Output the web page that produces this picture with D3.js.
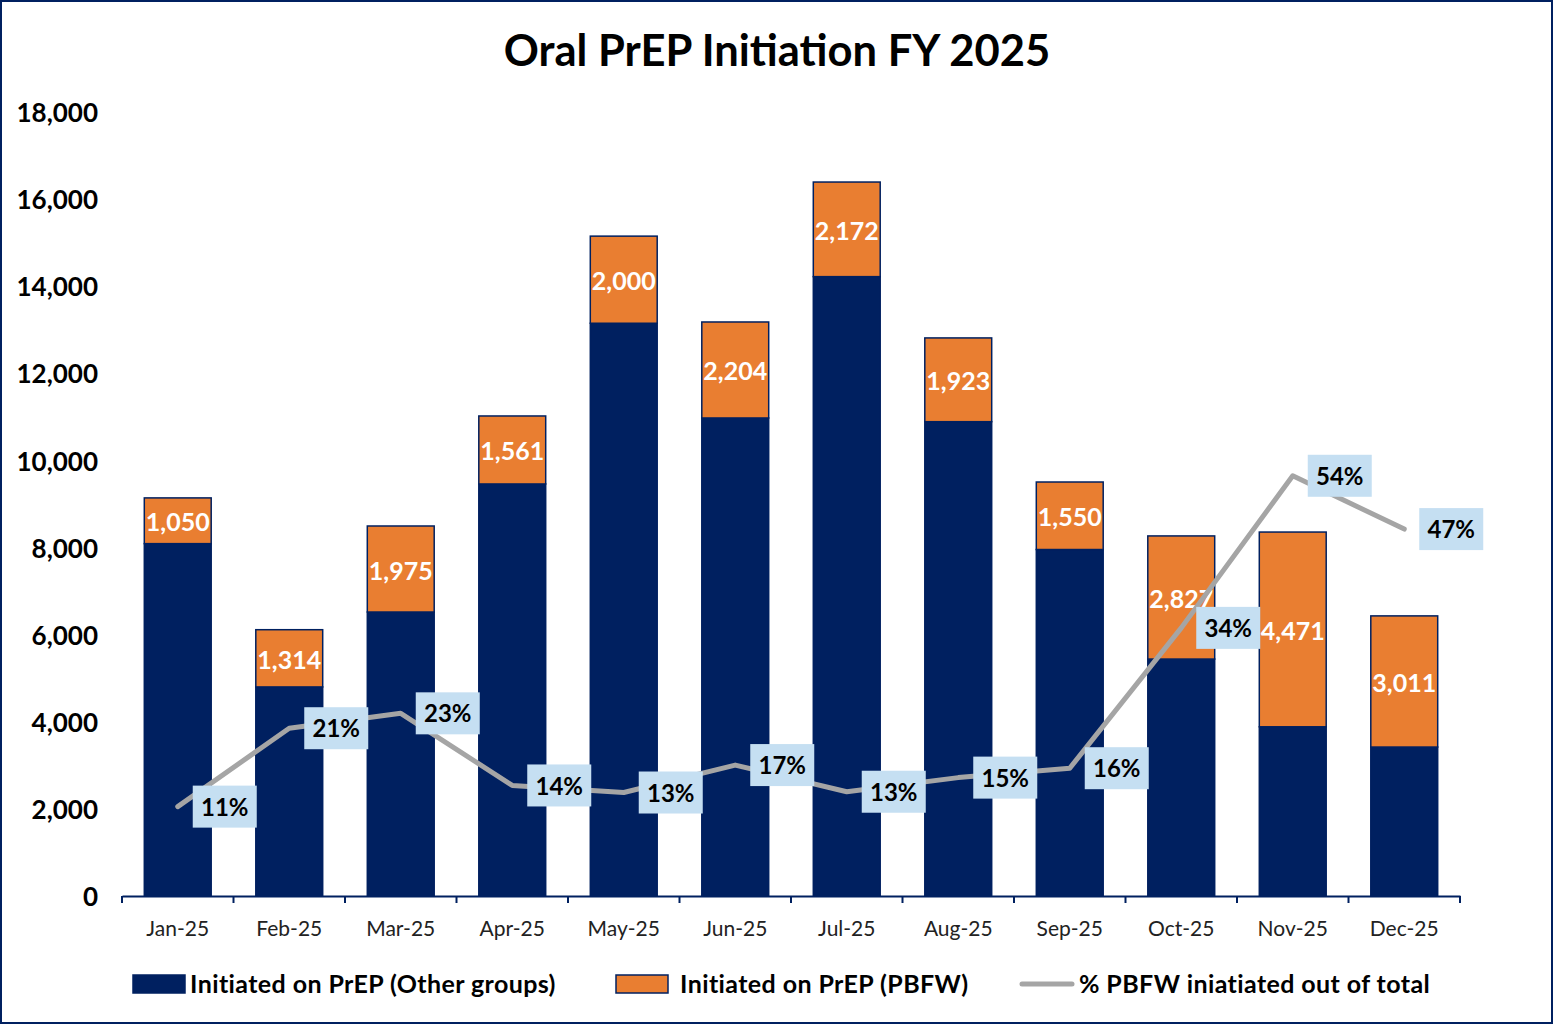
<!DOCTYPE html>
<html>
<head>
<meta charset="utf-8">
<script src="https://cdn.jsdelivr.net/npm/d3@7"></script>
<style>
  body { margin: 0; background: #fff; }
  svg { display: block; font-family: Lato, "Open Sans", sans-serif; }
</style>
</head>
<body>
<div id="chart"></div>
<script>
const WIDTH = 1554;
const HEIGHT = 1025;
const NAVY = "#002060";
const ORANGE = "#E97E31";
const GREY = "#A5A5A5";
const LABEL_BG = "#C5DFF2";

const months = ["Jan-25", "Feb-25", "Mar-25", "Apr-25", "May-25", "Jun-25",
                "Jul-25", "Aug-25", "Sep-25", "Oct-25", "Nov-25", "Dec-25"];
const otherGroups = [8090, 4800, 6520, 9460, 13150, 10975, 14220, 10890, 7955, 5440, 3885, 3420];
const pbfw = [1050, 1314, 1975, 1561, 2000, 2204, 2172, 1923, 1550, 2827, 4471, 3011];
const pctPbfw = [0.114, 0.214, 0.233, 0.141, 0.132, 0.167, 0.133, 0.151, 0.163, 0.342, 0.536, 0.468];
const yTicks = [0, 2000, 4000, 6000, 8000, 10000, 12000, 14000, 16000, 18000];

const margin = {left: 122, right: 94, top: 112, bottom: 129};
const plotW = WIDTH - margin.left - margin.right;
const plotH = HEIGHT - margin.top - margin.bottom;

const svg = d3.select("#chart").append("svg")
    .attr("width", WIDTH)
    .attr("height", HEIGHT);

// outer border
svg.append("rect")
    .attr("x", 1).attr("y", 1)
    .attr("width", WIDTH - 3).attr("height", HEIGHT - 3)
    .attr("fill", "#fff")
    .attr("stroke", NAVY)
    .attr("stroke-width", 2);

svg.append("text")
    .attr("x", 777).attr("y", 66)
    .attr("text-anchor", "middle")
    .style("font-size", "43.5px")
    .style("font-weight", "bold")
    .text("Oral PrEP Initiation FY 2025");

const g = svg.append("g")
    .attr("transform", "translate(" + margin.left + "," + margin.top + ")");

// scales
const x = d3.scaleBand().domain(months).range([0, plotW]).paddingInner(0.4).paddingOuter(0.2);
const y = d3.scaleLinear().domain([0, 18000]).range([plotH, 0]);
const y2 = d3.scaleLinear().domain([0, 1]).range([plotH, 0]);

// y axis (labels only)
const yAxis = d3.axisLeft(y).tickValues(yTicks).tickFormat(d3.format(",")).tickSize(0).tickPadding(24);
g.append("g").call(yAxis)
    .call(s => s.select(".domain").remove())
    .selectAll("text")
    .attr("dy", "0.37em")
    .style("font-size", "26px")
    .style("font-weight", "bold")
    .attr("fill", "#000")
    .style("font-family", "Lato, sans-serif");

// stacked bars
const stackData = months.map((m, i) => ({month: m, other: otherGroups[i], pbfw: pbfw[i]}));
const series = d3.stack().keys(["other", "pbfw"])(stackData);
const colors = {other: NAVY, pbfw: ORANGE};

g.selectAll("g.series")
    .data(series)
    .enter().append("g")
    .attr("class", "series")
    .attr("fill", d => colors[d.key])
    .selectAll("rect")
    .data(d => d)
    .enter().append("rect")
    .attr("x", d => x(d.data.month))
    .attr("y", d => y(d[1]))
    .attr("width", x.bandwidth())
    .attr("height", d => y(d[0]) - y(d[1]))
    .attr("stroke", NAVY)
    .attr("stroke-width", 1.5);

// PBFW value labels
g.selectAll("text.pbfwLabel")
    .data(series[1])
    .enter().append("text")
    .attr("class", "pbfwLabel")
    .attr("x", d => x(d.data.month) + x.bandwidth() / 2)
    .attr("y", d => (y(d[0]) + y(d[1])) / 2)
    .attr("dy", "0.42em")
    .attr("text-anchor", "middle")
    .attr("fill", "#fff")
    .style("font-size", "25px")
    .style("font-weight", "bold")
    .text(d => d3.format(",")(d.data.pbfw));

// x axis
const xAxis = d3.axisBottom(x).tickSize(0).tickPadding(25);
const xg = g.append("g")
    .attr("transform", "translate(0," + plotH + ")")
    .call(xAxis);
xg.select(".domain").attr("stroke", NAVY).attr("stroke-width", 2);
xg.selectAll("text")
    .style("font-size", "21px")
    .style("font-family", "Lato, sans-serif")
    .attr("fill", "#222");
// category boundary ticks
xg.selectAll("line.bound")
    .data(d3.range(months.length + 1))
    .enter().append("line")
    .attr("class", "bound")
    .attr("x1", i => i * x.step())
    .attr("x2", i => i * x.step())
    .attr("y1", 0).attr("y2", 7)
    .attr("stroke", NAVY)
    .attr("stroke-width", 2);

// percent line
const cx = m => x(m) + x.bandwidth() / 2;
const line = d3.line()
    .x((d, i) => cx(months[i]))
    .y(d => y2(d));
g.append("path")
    .datum(pctPbfw)
    .attr("d", line)
    .attr("fill", "none")
    .attr("stroke", GREY)
    .attr("stroke-width", 5)
    .attr("stroke-linecap", "round")
    .attr("stroke-linejoin", "round");

// percent labels
const pl = g.selectAll("g.pctLabel")
    .data(pctPbfw)
    .enter().append("g")
    .attr("class", "pctLabel")
    .attr("transform", (d, i) => "translate(" + (cx(months[i]) + 47) + "," + y2(d) + ")");
pl.append("rect")
    .attr("x", -32).attr("y", -21)
    .attr("width", 64).attr("height", 42)
    .attr("fill", LABEL_BG);
pl.append("text")
    .attr("text-anchor", "middle")
    .attr("dy", "0.38em")
    .style("font-size", "24px")
    .style("font-weight", "bold")
    .attr("fill", "#000")
    .text(d => Math.round(d * 100) + "%");

// legend
const legend = svg.append("g").attr("class", "legend");
const legendItems = [
    {type: "rect", color: NAVY, text: "Initiated on PrEP (Other groups)", x: 133, textX: 190},
    {type: "rect", color: ORANGE, text: "Initiated on PrEP (PBFW)", x: 616, textX: 680},
    {type: "line", color: GREY, text: "% PBFW iniatiated out of total", x: 1022, textX: 1079}
];
legendItems.forEach(it => {
    if (it.type === "rect") {
        legend.append("rect")
            .attr("x", it.x).attr("y", 975)
            .attr("width", 52).attr("height", 18)
            .attr("fill", it.color)
            .attr("stroke", NAVY)
            .attr("stroke-width", 1.5);
    } else {
        legend.append("line")
            .attr("x1", it.x).attr("x2", it.x + 50)
            .attr("y1", 984).attr("y2", 984)
            .attr("stroke", it.color)
            .attr("stroke-width", 5)
            .attr("stroke-linecap", "round");
    }
    legend.append("text")
        .attr("x", it.textX).attr("y", 984)
        .attr("dy", "0.36em")
        .style("font-size", "25px")
        .style("font-weight", "bold")
        .style("letter-spacing", "0.4px")
        .attr("fill", "#000")
        .text(it.text);
});
</script>
</body>
</html>
